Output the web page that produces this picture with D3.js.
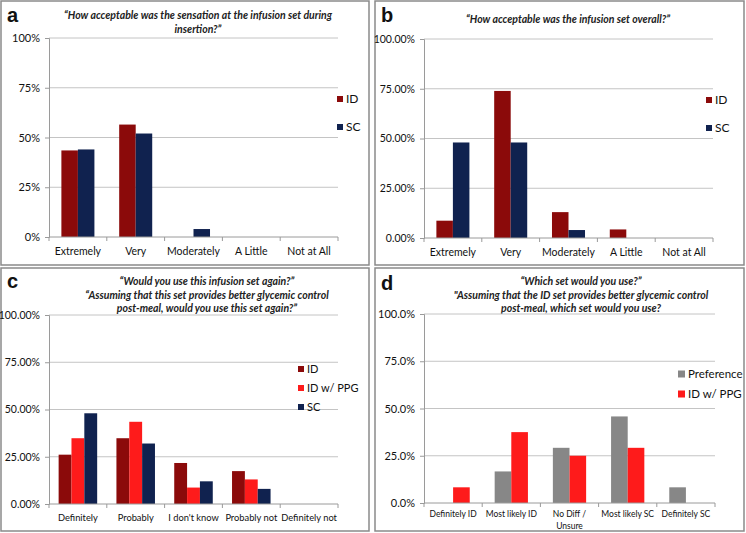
<!DOCTYPE html>
<html>
<head>
<meta charset="utf-8">
<script src="https://cdn.jsdelivr.net/npm/d3@7"></script>
<style>
  html, body { margin: 0; padding: 0; background: #fff; }
  svg { display: block; }
  text { font-family: Lato, "Open Sans", "Liberation Sans", sans-serif; fill: #111; }
</style>
</head>
<body>
<svg id="chart" width="746" height="533"></svg>
<script>
// ---------- DATA ----------
const ticksPct = [0, 0.25, 0.5, 0.75, 1];

const catsAB = ["Extremely", "Very", "Moderately", "A Little", "Not at All"];
const aID = [0.435, 0.565, 0, 0, 0];
const aSC = [0.44, 0.52, 0.04, 0, 0];
const bID = [0.087, 0.739, 0.13, 0.043, 0];
const bSC = [0.48, 0.48, 0.04, 0, 0];

const catsC = ["Definitely", "Probably", "I don't know", "Probably not", "Definitely not"];
const cID = [0.261, 0.348, 0.217, 0.174, 0];
const cPPG = [0.348, 0.435, 0.087, 0.13, 0];
const cSC = [0.48, 0.32, 0.12, 0.08, 0];

const catsD = [["Definitely ID"], ["Most likely ID"], ["No Diff /", "Unsure"], ["Most likely SC"], ["Definitely SC"]];
const dPref = [0, 0.167, 0.292, 0.458, 0.083];
const dPPG = [0.083, 0.375, 0.25, 0.292, 0];

const titleA = ["\u201CHow acceptable was the sensation at the infusion set during", "insertion?\u201D"];
const titleB = ["\u201CHow acceptable was the infusion set overall?\u201D"];
const titleC = ["\u201CWould you use this infusion set again?\u201D", "\u201CAssuming that this set provides better glycemic control", "post-meal, would you use this set again?\u201D"];
const titleD = ["\u201CWhich set would you use?\u201D", "\"Assuming that the ID set provides better glycemic control", "post-meal, which set would you use?"];

// ---------- COLORS ----------
const COL_ID = "#8b0a0a";
const COL_SC = "#10224f";
const COL_PPG = "#fe1b1b";
const COL_PREF = "#878787";

const svg = d3.select("#chart");

function panel(o) {
  const g = svg.append("g");
  // border
  g.append("rect").attr("x", o.box[0]).attr("y", o.box[1])
    .attr("width", o.box[2] - o.box[0]).attr("height", o.box[3] - o.box[1])
    .attr("fill", "none").attr("stroke", "#8a8a8a").attr("stroke-width", 1.5);

  // panel letter
  g.append("text").attr("x", o.box[0] + 6).attr("y", o.box[1] + o.letterDy)
    .style("font-family", "'Liberation Sans', Arial, sans-serif")
    .style("font-weight", "bold").style("font-size", "20px").text(o.letter);

  // title
  o.title.forEach((t, i) => {
    g.append("text").attr("x", o.titleX).attr("y", o.titleY + i * o.titleLH)
      .attr("text-anchor", "middle").style("font-style", "italic")
      .style("font-weight", "bold").style("font-size", "10.5px").style("fill", "#222").text(t);
  });

  const x = d3.scaleBand().domain(d3.range(o.cats.length)).range([o.x0, o.x1]).paddingInner(0).paddingOuter(0);
  const xs = d3.scaleBand().domain(d3.range(o.series.length)).range([0, x.bandwidth()]).paddingInner(0).paddingOuter(0.75);
  const y = d3.scaleLinear().domain([0, 1]).range([o.yBot, o.yTop]);

  // gridlines
  g.append("g").selectAll("line").data(ticksPct.filter(d => d > 0)).join("line")
    .attr("x1", o.x0).attr("x2", o.x1).attr("y1", d => y(d)).attr("y2", d => y(d))
    .attr("stroke", "#c4c4c4").attr("stroke-width", 1);

  // y axis
  const ya = g.append("g").attr("transform", `translate(${o.x0},0)`)
    .call(d3.axisLeft(y).tickValues(ticksPct).tickFormat(d3.format(o.fmt)).tickSize(4).tickPadding(5));
  ya.select(".domain").attr("stroke", "#9a9a9a");
  ya.selectAll(".tick line").attr("stroke", "#9a9a9a");
  ya.selectAll(".tick text").style("font-family", "Lato, 'Open Sans', sans-serif")
    .style("font-size", o.yFont).attr("fill", "#111");

  // bars
  o.series.forEach((s, si) => {
    g.append("g").selectAll("rect").data(s.values).join("rect")
      .attr("x", (d, i) => x(i) + xs(si)).attr("width", xs.bandwidth())
      .attr("y", d => y(d)).attr("height", d => y(0) - y(d))
      .attr("fill", s.color);
  });

  // x axis line + boundary ticks
  g.append("line").attr("x1", o.x0).attr("x2", o.x1).attr("y1", y(0)).attr("y2", y(0))
    .attr("stroke", "#9a9a9a");
  const bounds = d3.range(o.cats.length + 1).map(i => i < o.cats.length ? x(i) : x(i - 1) + x.bandwidth());
  g.append("g").selectAll("line").data(bounds).join("line")
    .attr("x1", d => d).attr("x2", d => d).attr("y1", y(0)).attr("y2", y(0) + 4)
    .attr("stroke", "#9a9a9a");

  // category labels
  o.cats.forEach((c, i) => {
    const lines = Array.isArray(c) ? c : [c];
    lines.forEach((l, li) => {
      g.append("text").attr("x", x(i) + x.bandwidth() / 2).attr("y", o.catY + li * o.catLH)
        .attr("text-anchor", "middle").style("font-size", o.catFont).text(l);
    });
  });

  // legend
  o.series.forEach((s, si) => {
    const ly = o.legY + si * o.legDY;
    g.append("rect").attr("x", o.legX).attr("y", ly - o.legSq / 2).attr("width", o.legSq).attr("height", o.legSq).attr("fill", s.color);
    g.append("text").attr("x", o.legX + o.legSq + 3).attr("y", ly).attr("dy", "0.35em")
      .style("font-size", o.legFont).text(s.name);
  });
}

panel({
  box: [1, 1, 369, 265], letter: "a", letterDy: 21,
  title: titleA, titleX: 198, titleY: 19, titleLH: 13.5,
  cats: catsAB, series: [{ name: "ID", values: aID, color: COL_ID }, { name: "SC", values: aSC, color: COL_SC }],
  x0: 49, x1: 338, yTop: 38, yBot: 237, fmt: ".0%", yFont: "11px",
  catY: 255, catLH: 12, catFont: "10.5px",
  legX: 337, legY: 99, legDY: 28, legSq: 6, legFont: "12px"
});

panel({
  box: [375, 1, 744, 265], letter: "b", letterDy: 21,
  title: titleB, titleX: 568, titleY: 23, titleLH: 13.5,
  cats: catsAB, series: [{ name: "ID", values: bID, color: COL_ID }, { name: "SC", values: bSC, color: COL_SC }],
  x0: 424, x1: 713, yTop: 39, yBot: 238, fmt: ".2%", yFont: "10.5px",
  catY: 256, catLH: 12, catFont: "10.5px",
  legX: 706, legY: 100, legDY: 28, legSq: 6, legFont: "12px"
});

panel({
  box: [1, 268, 369, 531], letter: "c", letterDy: 20,
  title: titleC, titleX: 207, titleY: 285, titleLH: 13.5,
  cats: catsC, series: [{ name: "ID", values: cID, color: COL_ID }, { name: "ID w/ PPG", values: cPPG, color: COL_PPG }, { name: "SC", values: cSC, color: COL_SC }],
  x0: 49, x1: 338, yTop: 315, yBot: 504, fmt: ".2%", yFont: "10.5px",
  catY: 521, catLH: 12, catFont: "9.3px",
  legX: 298, legY: 369, legDY: 19, legSq: 6, legFont: "11px"
});

panel({
  box: [375, 268, 744, 531], letter: "d", letterDy: 22,
  title: titleD, titleX: 581, titleY: 285, titleLH: 13.5,
  cats: catsD, series: [{ name: "Preference", values: dPref, color: COL_PREF }, { name: "ID w/ PPG", values: dPPG, color: COL_PPG }],
  x0: 424, x1: 715, yTop: 314, yBot: 503, fmt: ".1%", yFont: "11px",
  catY: 517, catLH: 12, catFont: "8.5px",
  legX: 678, legY: 374, legDY: 20, legSq: 7, legFont: "11.5px"
});
</script>
</body>
</html>
